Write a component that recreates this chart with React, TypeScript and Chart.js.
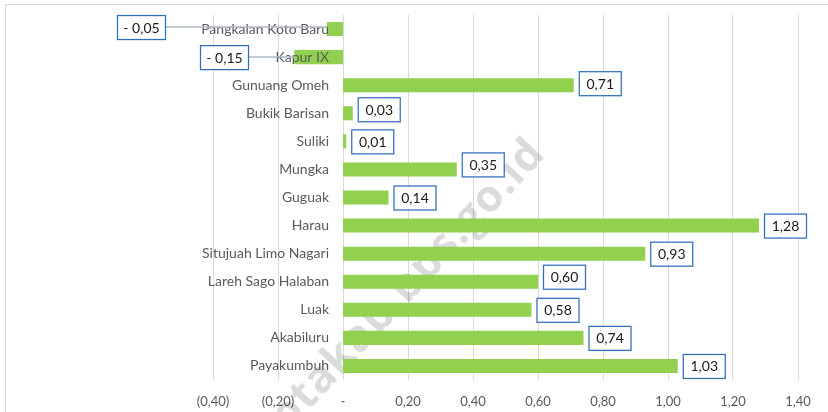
import { useEffect, useRef } from "react";
import { Chart, registerables } from "chart.js";

Chart.register(...registerables);

const categories = [
  "Pangkalan Koto Baru",
  "Kapur IX",
  "Gunuang Omeh",
  "Bukik Barisan",
  "Suliki",
  "Mungka",
  "Guguak",
  "Harau",
  "Situjuah Limo Nagari",
  "Lareh Sago Halaban",
  "Luak",
  "Akabiluru",
  "Payakumbuh",
];

const values = [-0.05, -0.15, 0.71, 0.03, 0.01, 0.35, 0.14, 1.28, 0.93, 0.6, 0.58, 0.74, 1.03];

const valueLabels = ["- 0,05", "- 0,15", "0,71", "0,03", "0,01", "0,35", "0,14", "1,28", "0,93", "0,60", "0,58", "0,74", "1,03"];

const tickLabels = ["(0,40)", "(0,20)", "-", "0,20", "0,40", "0,60", "0,80", "1,00", "1,20", "1,40"];

const FONT = "Lato, 'Open Sans', sans-serif";
const BAR = "#92d050";
const TEXT = "#595959";
const GRID = "#d9d9d9";
const BOX = "#2e6fbd";

// label placement tweaks (pixels), styling only
const labelNudgeY = [-2, 0, -2, -4, 0, -5, 0, 0, 0, -5, 0, 0, 0];
const negRightOffset: Record<number, number> = { 0: -178, 1: -95 };

const decorPlugin = {
  id: "decor",
  beforeDraw(chart: any) {
    const ctx = chart.ctx;
    ctx.save();
    ctx.fillStyle = "#ffffff";
    ctx.fillRect(0, 0, chart.width, chart.height);
    ctx.strokeStyle = "#d9d9d9";
    ctx.lineWidth = 1;
    ctx.strokeRect(5.5, 4.5, 1000, 1000);
    ctx.restore();
  },
  beforeDatasetsDraw(chart: any) {
    // watermark
    const ctx = chart.ctx;
    ctx.save();
    ctx.translate(462, 246);
    ctx.rotate(-47 * Math.PI / 180);
    ctx.fillStyle = "rgba(0,0,0,0.14)";
    ctx.font = "bold 44px 'Open Sans', sans-serif";
    (ctx as any).letterSpacing = "1px";
    ctx.textBaseline = "alphabetic";
    ctx.textAlign = "right";
    ctx.fillText("limapuluhkotakab.bps", 0, 0);
    ctx.textAlign = "left";
    ctx.fillText(".go.id", 0, 0);
    ctx.restore();
  },
  afterDatasetsDraw(chart: any) {
    const ctx = chart.ctx;
    const meta = chart.getDatasetMeta(0);
    const xs = chart.scales.x;
    const x0 = xs.getPixelForValue(0);
    ctx.save();
    // category labels
    ctx.font = `14px ${FONT}`;
    ctx.fillStyle = TEXT;
    ctx.textAlign = "right";
    ctx.textBaseline = "middle";
    meta.data.forEach((bar: any, i: number) => {
      ctx.fillText(categories[i], x0 - 14, bar.y);
    });
    // value labels
    meta.data.forEach((bar: any, i: number) => {
      const v = values[i];
      const label = valueLabels[i];
      const h = 24;
      let left: number;
      let w: number;
      const cy = bar.y + labelNudgeY[i];
      if (v < 0) {
        w = 48;
        left = x0 + negRightOffset[i] - w;
        ctx.strokeStyle = "#b0b8c6";
        ctx.lineWidth = 1.5;
        ctx.beginPath();
        ctx.moveTo(left + w, cy);
        ctx.lineTo(xs.getPixelForValue(v), cy);
        ctx.stroke();
      } else {
        w = 42;
        left = bar.x + 5;
      }
      const top = cy - h / 2;
      ctx.fillStyle = "#ffffff";
      ctx.fillRect(left, top, w, h);
      ctx.strokeStyle = BOX;
      ctx.lineWidth = 1.25;
      ctx.strokeRect(left + 0.5, top + 0.5, w, h);
      ctx.fillStyle = "#1a1a1a";
      ctx.font = `14px ${FONT}`;
      ctx.textAlign = "center";
      ctx.textBaseline = "middle";
      ctx.fillText(label, left + w / 2 + 0.5, cy + 1);
    });
    ctx.restore();
  },
};

export default function App() {
  const ref = useRef<HTMLCanvasElement | null>(null);

  useEffect(() => {
    document.body.style.margin = "0";
    const canvas = ref.current;
    if (!canvas) return;
    const chart = new Chart(canvas, {
      type: "bar",
      data: {
        labels: categories,
        datasets: [
          {
            data: values,
            backgroundColor: BAR,
            borderWidth: 0,
            barPercentage: 0.5,
            categoryPercentage: 1.0,
          },
        ],
      },
      options: {
        indexAxis: "y",
        animation: false,
        responsive: false,
        devicePixelRatio: 1,
        layout: { padding: { left: 213, right: 30, top: 15, bottom: 0 } },
        plugins: {
          legend: { display: false },
          tooltip: { enabled: false },
        },
        scales: {
          x: {
            min: -0.4,
            max: 1.4,
            afterFit: (scale: any) => {
              scale.height = 32;
            },
            ticks: {
              stepSize: 0.2,
              padding: 14,
              color: TEXT,
              font: { family: FONT, size: 13 },
              callback: (_v: any, i: number) => tickLabels[i],
            },
            grid: { color: GRID, drawTicks: false, lineWidth: 1 },
            border: { display: false },
          },
          y: {
            display: false,
          },
        },
      },
      plugins: [decorPlugin],
    });
    return () => chart.destroy();
  }, []);

  return (
    <div style={{ width: 828, height: 412, position: "relative" }}>
      <canvas ref={ref} width={828} height={412} style={{ display: "block" }} />
    </div>
  );
}
